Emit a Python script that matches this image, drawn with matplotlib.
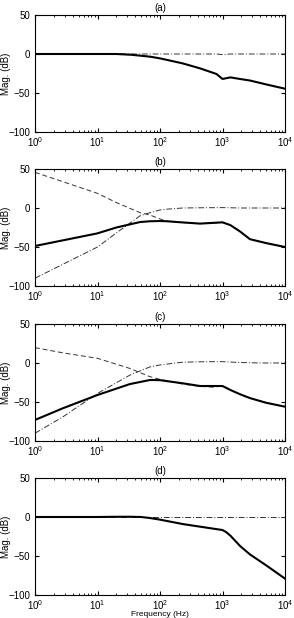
import numpy as np
import matplotlib.pyplot as plt

plt.rcParams['font.family'] = ['Liberation Sans', 'DejaVu Sans']
plt.rcParams['mathtext.fontset'] = 'custom'
plt.rcParams['mathtext.rm'] = 'Liberation Sans'

# (a)
fa = [1, 3, 10, 20, 35, 69, 100, 230, 437, 800, 1000, 1340, 1900, 2750, 5000, 10000]
a_solid = [0, 0, 0, 0, -1, -3.4, -5.6, -12, -18.4, -25.6, -32, -30, -32, -34, -39, -44.5]
a_dashdot = [0, 0, 0, 0, 0, 0, 0, 0, 0, 0, -0.8, 0, 0, 0, 0, 0]

# (b)
fb = [1, 10, 20, 48, 69, 100, 130, 230, 437, 1000, 1340, 1900, 2750, 5000, 10000]
b_solid = [-48.7, -32.5, -25, -18, -17, -16.7, -17, -18.5, -20, -18.4, -22, -30, -40, -45, -50]
b_dashed = [45.7, 18.8, 7, -6, -9, -14, -17, -18.5, -20, -18.4, -22, -30, -40, -45, -50]
b_dashdot = [-90, -50, -32, -10, -6, -2.5, -1.5, 0, 0.3, 0.5, 0.3, 0, 0, 0, 0]

# (c)
fc = [1, 2.8, 10, 33, 69, 100, 230, 437, 700, 1000, 1340, 1900, 2750, 5000, 10000]
c_solid = [-73, -58, -41, -27, -21.8, -22, -26, -29.5, -29.5, -29.5, -34.6, -40, -45, -51, -56]
c_dashed = [19.7, 13, 6, -7, -17.5, -21, -27, -30, -31, -29.5, -34.6, -40, -45, -51, -56]
c_dashdot = [-90, -69, -39, -15.5, -5, -2.5, 1, 1.5, 1.7, 1.7, 1.2, 0.7, 0.3, 0, 0]

# (d)
fd = [1, 3, 10, 20, 35, 50, 69, 100, 230, 437, 1000, 1150, 1340, 1900, 2750, 5000, 10000]
d_solid = [0, 0, 0, 0.3, 0.3, 0, -1.3, -3.4, -9, -12.4, -16.7, -19.5, -24, -37, -48, -62, -79]
d_dashdot = [0, 0, 0, 0, 0, 0, 0, 0, 0, 0, 0, 0, 0, 0, 0, 0, 0]

panels = [
    ('(a)', fa, a_solid, None, a_dashdot),
    ('(b)', fb, b_solid, b_dashed, b_dashdot),
    ('(c)', fc, c_solid, c_dashed, c_dashdot),
    ('(d)', fd, d_solid, None, d_dashdot),
]

fig = plt.figure(figsize=(2.94, 6.18), dpi=100)
W, H = 294, 618
tops = [15, 169, 324, 478]
for (title, f, solid, dashed, dashdot), top in zip(panels, tops):
    ax = fig.add_axes([35 / W, 1 - (top + 117) / H, 250 / W, 117 / H])
    ax.semilogx(f, dashdot, color='#333333', linestyle=(0, (6, 2, 1, 2)), linewidth=0.7)
    if dashed is not None:
        ax.semilogx(f, dashed, color='#333333', linestyle=(0, (5, 3)), linewidth=0.7)
    ax.semilogx(f, solid, color='black', linewidth=1.5)
    ax.set_xlim(1, 1e4)
    ax.set_ylim(-100, 50)
    ax.set_yticks([-100, -50, 0, 50])
    ax.set_yticklabels(['\u2212100', '\u221250', '0', '50'])
    ax.tick_params(which='both', direction='in', top=True, right=True, labelsize=7)
    ax.tick_params(which='major', length=3)
    ax.tick_params(which='minor', length=1.5)
    ax.tick_params(axis='x', pad=2)
    ax.set_title(title, fontsize=7, pad=3)
    ax.set_ylabel('Mag. (dB)', fontsize=7)
    ax.yaxis.set_label_coords(-0.095, 0.5)
    if title == '(d)':
        ax.set_xlabel('Frequency (Hz)', fontsize=6)
        ax.xaxis.set_label_coords(0.5, -0.14)

fig.savefig('out.png', dpi=100)
